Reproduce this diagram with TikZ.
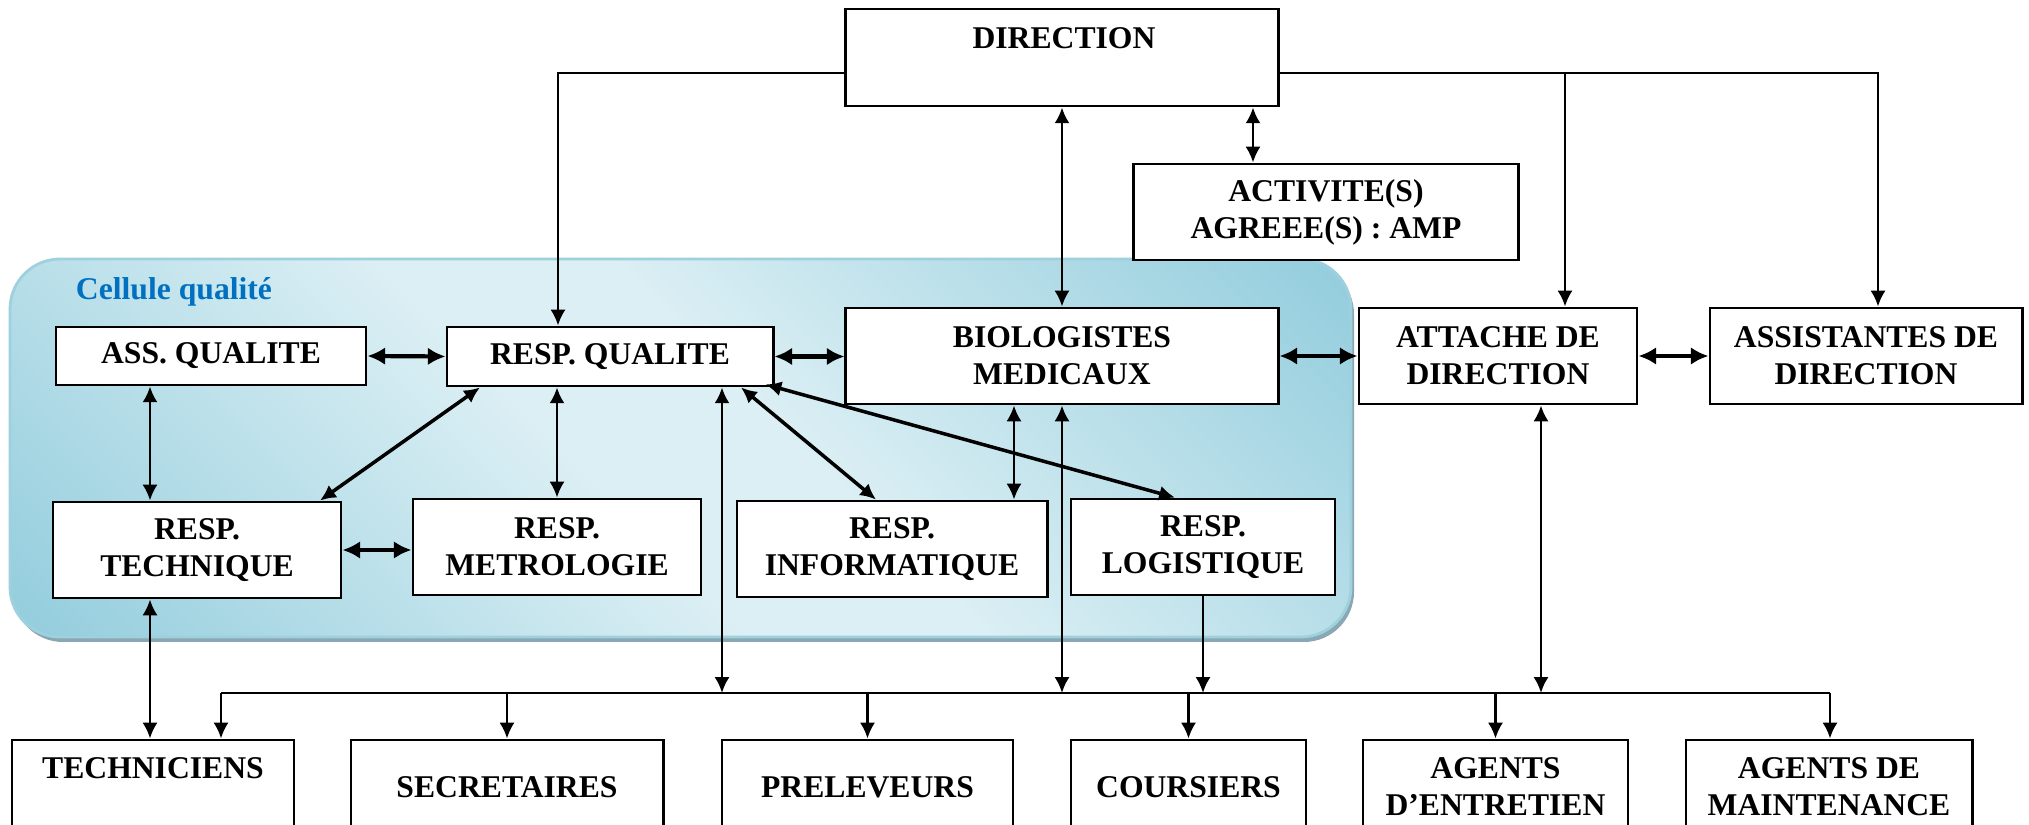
\documentclass[tikz,border=0pt]{standalone}
\usepackage{fontspec}
\setmainfont{Liberation Serif}
\usepackage{xcolor}
\usetikzlibrary{arrows.meta,calc,positioning}
\definecolor{celldark}{RGB}{147,205,221}
\definecolor{celllight}{RGB}{219,239,244}
\definecolor{cellline}{RGB}{158,208,222}
\definecolor{cellshadow}{RGB}{138,168,180}
\definecolor{cellblue}{RGB}{0,112,192}
\pgfdeclareverticalshading{cellshade}{100bp}{color(0bp)=(celldark); color(15bp)=(celldark); color(45bp)=(celllight); color(55bp)=(celllight); color(85bp)=(celldark); color(100bp)=(celldark)}

\begin{document}
\begin{tikzpicture}[x=0.01cm,y=-0.01cm,font=\fontsize{9}{10.5}\selectfont\bfseries,
  box/.style={draw,fill=white,line width=0.8pt,align=center,inner sep=0pt},
  conn/.style={line width=0.8pt},
  dconn/.style={line width=1pt},
  hconn/.style={line width=1.2pt,{Latex[length=5pt,width=5pt]}-{Latex[length=5pt,width=5pt]}},
  >={Latex[length=4.5pt,width=4.3pt]}]
\useasboundingbox (0,0) rectangle (2029,825);

% cellule qualite
\fill[cellshadow,rounded corners=0.5cm] (13,264) rectangle (1354,642);
\shadedraw[shading=cellshade,shading angle=-45,draw=cellline,line width=0.8pt,rounded corners=0.5cm] (10,259) rectangle (1351,637);
\node[text=cellblue] (cellt) at (174,292) {Cellule qualité};

% boxes
\node[box,minimum width=4.32cm,minimum height=0.97cm] (dir) at (1062,57.5) {};
\node (dirt) at (1064,38) {DIRECTION};
\node[box,minimum width=3.84cm,minimum height=0.96cm] (act) at (1326,212) {ACTIVITE(S)\\AGREEE(S) : AMP};
\node[box,minimum width=3.10cm,minimum height=0.58cm] (assq) at (211,356) {ASS. QUALITE};
\node[box,minimum width=3.26cm,minimum height=0.59cm] (respq) at (610,356.5) {RESP. QUALITE};
\node[box,minimum width=4.32cm,minimum height=0.96cm] (bio) at (1062,356) {BIOLOGISTES\\MEDICAUX};
\node[box,minimum width=2.78cm,minimum height=0.96cm] (att) at (1498,356) {ATTACHE DE\\DIRECTION};
\node[box,minimum width=3.12cm,minimum height=0.96cm] (assist) at (1866,356) {ASSISTANTES DE\\DIRECTION};
\node[box,minimum width=2.88cm,minimum height=0.96cm] (tech) at (197,550) {RESP.\\TECHNIQUE};
\node[box,minimum width=2.88cm,minimum height=0.96cm] (metro) at (557,547) {RESP.\\METROLOGIE};
\node[box,minimum width=3.10cm,minimum height=0.96cm] (info) at (892,549) {RESP.\\INFORMATIQUE};
\node[box,minimum width=2.64cm,minimum height=0.96cm] (logi) at (1203,547) {RESP.\\LOGISTIQUE};

\node[box,minimum width=2.82cm,minimum height=0.94cm] (techn) at (153,787) {};
\node (technt) at (153,768) {TECHNICIENS};
\node[box,minimum width=3.12cm,minimum height=0.94cm] (secr) at (507,787) {SECRETAIRES};
\node[box,minimum width=2.91cm,minimum height=0.94cm] (prel) at (867.5,787) {PRELEVEURS};
\node[box,minimum width=2.35cm,minimum height=0.94cm] (cour) at (1188.5,787) {COURSIERS};
\node[box,minimum width=2.65cm,minimum height=0.94cm] (entr) at (1495.5,787) {AGENTS\\D’ENTRETIEN};
\node[box,minimum width=2.86cm,minimum height=0.94cm] (maint) at (1829,787) {AGENTS DE\\MAINTENANCE};

% liaisons
\coordinate (busL) at (221,693);
\coordinate (busR) at (1830,693);
\coordinate (actx) at ($(act.north)+(-73,0)$);
\coordinate (techx) at ($(tech.north)+(-47,0)$);
\coordinate (qx) at ($(respq.south)+(112,0)$);
\coordinate (bx) at ($(bio.south)+(-48,0)$);
\coordinate (ax) at ($(att.south)+(43,0)$);

\draw[conn,->] ($(dir.west)+(0,15.5)$) -| ($(respq.north)+(-52,0)$);
\draw[conn,->] ($(dir.east)+(0,15.5)$) -| ($(assist.north)+(12,0)$);
\draw[conn,->] ($(att.north)+(67,-235)$) -- ($(att.north)+(67,0)$);
\draw[conn,<->] (dir.south) -- (bio.north);
\draw[conn,<->] (actx |- dir.south) -- (actx);

\draw[hconn] (assq.east) -- (respq.west);
\draw[hconn] (respq.east) -- (respq.east -| bio.west);
\draw[hconn] (bio.east) -- (att.west);
\draw[hconn] (att.east) -- (assist.west);
\draw[hconn] (tech.east) -- (tech.east -| metro.west);

\draw[conn,<->] (techx |- assq.south) -- (techx);
\draw[conn,<->] (techx |- tech.south) -- (techx |- techn.north);
\draw[conn,<->] (metro.north |- respq.south) -- (metro.north);
\draw[conn,<->] (qx) -- (qx |- busL);
\draw[conn,<->] (bx) -- (bx |- info.north);
\draw[conn,<->] (bio.south) -- (bio.south |- busL);
\draw[conn,->] (logi.south) -- (logi.south |- busL);
\draw[conn,<->] (ax) -- (ax |- busL);

\draw[dconn,<->] ($(respq.south)+(-130,0)$) -- ($(tech.north)+(123,0)$);
\draw[dconn,<->] ($(respq.south)+(131,0)$) -- ($(info.north)+(-16,0)$);
\draw[dconn,<->] ($(respq.south east)+(-9,-3)$) -- ($(logi.north)+(-28,0)$);

% personnel
\draw[conn] (busL) -- (busR);
\draw[conn,->] (busL) -- (busL |- techn.north);
\foreach \b in {secr,prel,cour,entr}
  \draw[conn,->] (\b.north |- busL) -- (\b.north);
\draw[conn,->] (busR) -- (busR |- maint.north);
\end{tikzpicture}
\end{document}
